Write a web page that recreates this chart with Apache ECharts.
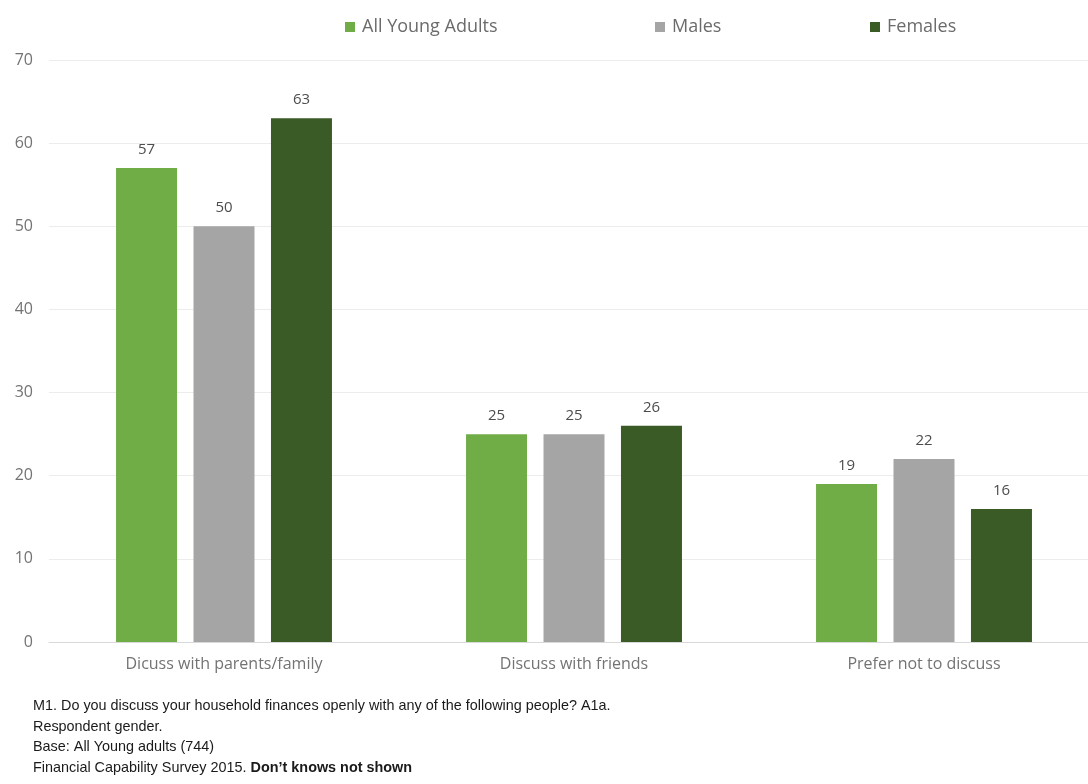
<!DOCTYPE html>
<html>
<head>
<meta charset="utf-8">
<script src="https://cdn.jsdelivr.net/npm/echarts@6/dist/echarts.min.js"></script>
<style>
  html, body { margin: 0; padding: 0; background: #fff; }
  #chart { width: 1088px; height: 784px; }
</style>
</head>
<body>
<div id="chart"></div>
<script>
var categories = ["Dicuss with parents/family", "Discuss with friends", "Prefer not to discuss"];
var seriesNames = ["All Young Adults", "Males", "Females"];
var allYoungAdults = [57, 25, 19];
var males = [50, 25, 22];
var females = [63, 26, 16];
var yTicks = [0, 10, 20, 30, 40, 50, 60, 70];

var colors = ["#70ad47", "#a5a5a5", "#3a5a26"];
var values = [allYoungAdults, males, females];
var legendLeft = [340, 650, 865];
var font = "'Open Sans', sans-serif";

var series = [];
var legends = [];
for (var i = 0; i < values.length; i++) {
  series.push({
    name: seriesNames[i],
    type: "bar",
    barWidth: 61,
    barGap: "27%",
    itemStyle: { color: colors[i] },
    label: {
      show: true,
      position: "top",
      distance: 11,
      color: "#4d4d4d",
      fontFamily: font,
      fontSize: 15
    },
    data: values[i]
  });
  legends.push({
    left: legendLeft[i],
    top: 13,
    data: [seriesNames[i]],
    icon: "rect",
    itemWidth: 10,
    itemHeight: 10,
    itemGap: 4,
    textStyle: { color: "#6b6b6b", fontFamily: font, fontSize: 18, padding: [0, 0, 0, 2] }
  });
}

var option = {
  animation: false,
  color: colors,
  legend: legends,
  grid: { left: 49, top: 60, width: 1050, height: 582, outerBoundsMode: "none" },
  xAxis: {
    type: "category",
    data: categories,
    axisTick: { show: false },
    axisLine: { lineStyle: { color: "#d9d9d9" } },
    axisLabel: { color: "#737373", fontFamily: font, fontSize: 16, margin: 14 }
  },
  yAxis: {
    type: "value",
    min: yTicks[0],
    max: yTicks[yTicks.length - 1],
    interval: 10,
    axisLine: { show: false },
    axisTick: { show: false },
    splitLine: { lineStyle: { color: "#ececec" } },
    axisLabel: { color: "#737373", fontFamily: font, fontSize: 16, margin: 16 }
  },
  graphic: [{
    type: "text",
    left: 33,
    top: 696,
    style: {
      text: "M1. Do you discuss your household finances openly with any of the following people? A1a.\nRespondent gender.\nBase: All Young adults (744)\nFinancial Capability Survey 2015. {b|Don\u2019t knows not shown}",
      fill: "#1a1a1a",
      font: "14.4px 'Liberation Sans', Arial, sans-serif",
      lineHeight: 20.5,
      rich: {
        b: { fontWeight: "bold", fill: "#1a1a1a", fontSize: 14.4, fontFamily: "Liberation Sans" }
      }
    }
  }],
  series: series
};

var chart = echarts.init(document.getElementById("chart"));
chart.setOption(option);
</script>
</body>
</html>
